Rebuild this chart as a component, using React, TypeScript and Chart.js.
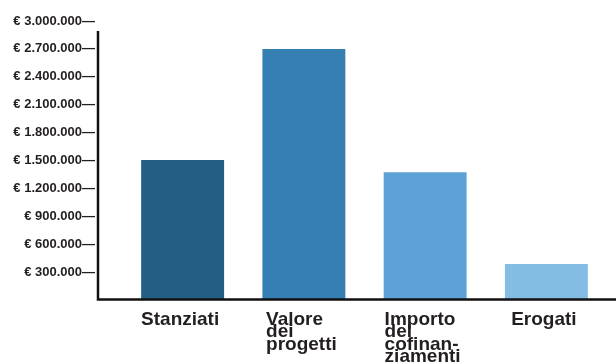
import React, { useEffect, useRef } from "react";
import { Chart, registerables } from "chart.js";

Chart.register(...registerables);

const categories: string[][] = [
  ["Stanziati"],
  ["Valore", "dei", "progetti"],
  ["Importo", "del", "cofinan-", "ziamenti"],
  ["Erogati"],
];
const values: number[] = [1505000, 2700000, 1375000, 388000];
const barColors: string[] = ["#255E85", "#367FB2", "#5CA2D6", "#85BCE4"];
const yMin = 0;
const yMax = 3000000;
const yStep = 300000;

const FONT_FAMILY = "'Liberation Sans', Arial, sans-serif";

const formatEuro = (v: number) =>
  v === 0 ? "" : "€ " + String(Math.round(v)).replace(/\B(?=(\d{3})+(?!\d))/g, ".") + "—";

const axisLines = {
  id: "axisLines",
  afterDraw(chart: any) {
    const { ctx, chartArea } = chart;
    const x = chartArea.left - 24;
    ctx.save();
    ctx.strokeStyle = "#111111";
    ctx.lineWidth = 2.5;
    ctx.beginPath();
    ctx.moveTo(x, chartArea.top + 10);
    ctx.lineTo(x, chartArea.bottom);
    ctx.moveTo(x - 1.25, chartArea.bottom - 0.5);
    ctx.lineTo(chart.width, chartArea.bottom - 0.5);
    ctx.stroke();
    ctx.restore();
  },
};

const blockLabels = {
  id: "blockLabels",
  afterDraw(chart: any) {
    const { ctx, chartArea } = chart;
    const xScale = chart.scales.x;
    ctx.save();
    ctx.font = `bold 19px ${FONT_FAMILY}`;
    ctx.fillStyle = "#231f20";
    ctx.textAlign = "left";
    ctx.textBaseline = "alphabetic";
    categories.forEach((lines, i) => {
      const center = xScale.getPixelForTick(i);
      const maxW = Math.max(...lines.map((l) => ctx.measureText(l).width));
      const startX = center - maxW / 2 - 2.5;
      lines.forEach((line, j) => {
        ctx.fillText(line, startX, chartArea.bottom + 25 + j * 12.3);
      });
    });
    ctx.restore();
  },
};

export default function App() {
  const ref = useRef<HTMLCanvasElement | null>(null);
  useEffect(() => {
    document.body.style.margin = "0";
    if (!ref.current) return;
    const chart = new Chart(ref.current, {
      type: "bar",
      data: {
        labels: categories.map((l) => l.join(" ")),
        datasets: [
          {
            data: values,
            backgroundColor: barColors,
            borderWidth: 0,
            categoryPercentage: 1,
            barPercentage: 0.684,
          },
        ],
      },
      options: {
        responsive: false,
        animation: false,
        devicePixelRatio: 1,
        layout: { padding: { top: 21, right: 9, left: 0, bottom: 63 } },
        plugins: { legend: { display: false }, tooltip: { enabled: false } },
        scales: {
          x: {
            grid: { display: false, drawTicks: false },
            border: { display: false },
            ticks: { display: false },
          },
          y: {
            min: yMin,
            max: yMax,
            grid: { display: false, drawTicks: false },
            border: { display: false },
            ticks: {
              stepSize: yStep,
              padding: 27,
              color: "#231f20",
              font: { family: FONT_FAMILY, weight: "bold", size: 13 },
              callback: (v: any) => formatEuro(Number(v)),
            },
            afterFit(scale: any) {
              scale.width = 122;
              scale.paddingTop = 8;
              scale.paddingBottom = 0;
            },
          },
        },
      },
      plugins: [axisLines, blockLabels],
    });
    return () => chart.destroy();
  }, []);
  return (
    <div style={{ position: "absolute", left: 0, top: 0, width: 616, height: 363 }}>
      <canvas ref={ref} width={616} height={363} />
    </div>
  );
}
